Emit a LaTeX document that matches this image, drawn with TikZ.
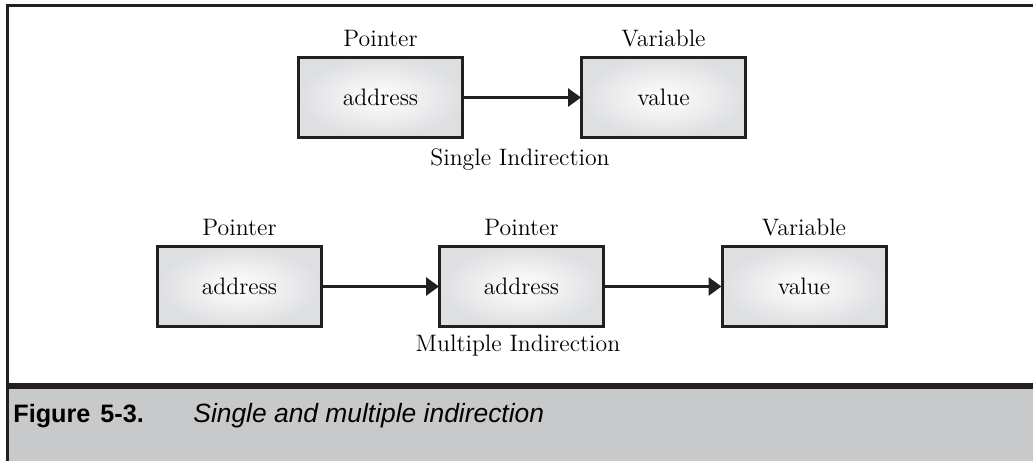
\documentclass[tikz,border=0pt]{standalone}
\usepackage{fontspec}
\newfontfamily\capfont{Liberation Sans}
\usetikzlibrary{arrows.meta,positioning}

\definecolor{framegray}{RGB}{35,31,32}
\definecolor{capgray}{RGB}{200,201,203}
\definecolor{boxedge}{RGB}{222,223,225}

\tikzset{
	membox/.style={draw=framegray, line width=1.5pt, inner sep=0pt,
		minimum width=82pt, minimum height=40pt,
		inner color=white, outer color=boxedge,
		font=\fontsize{11.9}{14}\selectfont},
	lbl/.style={inner sep=0pt, font=\fontsize{11.9}{14}\selectfont},
	ptr/.style={line width=1.5pt, draw=framegray,
		-{Triangle[length=6.5pt,width=9pt]}, shorten >=-0.5pt}
}

\begin{document}
\begin{tikzpicture}[x=0.5pt, y=-0.5pt]
		%%%%% FRAME %%%%%
		\useasboundingbox (0,0) rectangle (1033,461);
		\fill[capgray] (7,386) rectangle (1033,461);
		\draw[line width=1.5pt, framegray] (7.5,461) -- (7.5,5.5) -- (1033,5.5);
		\draw[line width=3pt, framegray] (7,386) -- (1033,386);
		
		%%%%% SINGLE INDIRECTION %%%%%
		\node[membox] (ptrA) at (380.5, 97.5) {address};
		\node[membox] (varA) at (663.5, 97.5) {value};
		\node[lbl, above=4.5pt of ptrA] (ptrAlbl) {Pointer};
		\node[lbl, above=4.5pt of varA] (varAlbl) {Variable};
		\draw[ptr] (ptrA) -- (varA);
		\node[lbl, anchor=north] (single) at (520, 148) {Single Indirection};
		
		%%%%% MULTIPLE INDIRECTION %%%%%
		\node[membox] (ptrB) at (239.5, 286.5) {address};
		\node[membox] (ptrC) at (521.5, 286.5) {address};
		\node[membox] (varB) at (804, 286.5) {value};
		\node[lbl, above=4.5pt of ptrB] (ptrBlbl) {Pointer};
		\node[lbl, above=4.5pt of ptrC] (ptrClbl) {Pointer};
		\node[lbl, above=4.5pt of varB] (varBlbl) {Variable};
		\draw[ptr] (ptrB) -- (ptrC);
		\draw[ptr] (ptrC) -- (varB);
		\node[lbl, anchor=north] (multiple) at (518, 335) {Multiple Indirection};
		
		%%%%% CAPTION %%%%%
		\node[anchor=base west, inner sep=0pt, font=\capfont\bfseries\fontsize{12.6}{15}\selectfont]
			(fignum) at (13, 422) {Figure\hspace{5pt}5-3.};
		\node[anchor=base west, inner sep=0pt, font=\capfont\itshape\fontsize{13.2}{15}\selectfont]
			(figtitle) at (193, 422) {Single and multiple indirection};
	\end{tikzpicture}
\end{document}
